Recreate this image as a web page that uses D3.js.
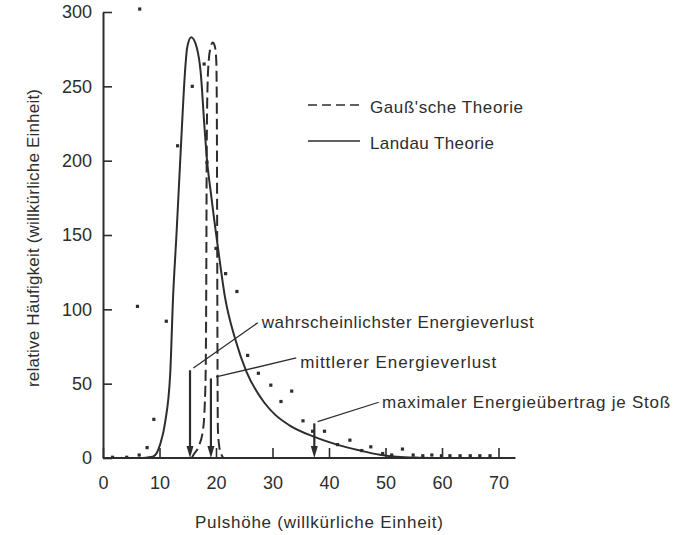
<!DOCTYPE html>
<html>
<head>
<meta charset="utf-8">
<script src="https://cdn.jsdelivr.net/npm/d3@7"></script>
<style>
  html, body { margin: 0; padding: 0; background: #fff; }
  svg { display: block; }
  text { font-family: "Liberation Sans Narrow", "Arial Narrow", sans-serif; fill: #2d2d2d; }
</style>
</head>
<body>
<svg id="chart" width="682" height="535"></svg>
<script>
// Tick values of both axes
const xTicks = [0, 10, 20, 30, 40, 50, 60, 70];
const yTicks = [0, 50, 100, 150, 200, 250, 300];

// Landau theory curve: [pulse height, frequency]
const landau = [
  [7.0, 0], [8.9, 1], [10.1, 9], [11.0, 24], [11.9, 57], [12.4, 108], [13.0, 150],
  [13.6, 195], [14.0, 225], [14.5, 259], [14.9, 276], [15.6, 283], [16.6, 276],
  [17.3, 259], [17.9, 226], [18.3, 205], [19.2, 175], [20.4, 140], [21.6, 108],
  [23.4, 80], [25.4, 58], [27.0, 46], [28.6, 37], [30.5, 29], [33.0, 22],
  [37.2, 14.5], [41.4, 9], [45.5, 5], [49.0, 2.2], [52.0, 0.8], [56.0, 0.2],
  [60.0, 0], [72.0, 0]
];

// Gaussian theory curve: [pulse height, frequency]
const gauss = [
  [15.7, 0], [16.0, 2], [16.9, 7.5], [17.7, 19], [18.0, 35], [18.18, 60],
  [18.28, 120], [18.35, 200], [18.5, 250], [18.73, 268], [19.03, 276],
  [19.42, 279.5], [19.79, 277], [20.04, 268], [20.14, 240], [20.21, 150],
  [20.27, 60], [20.33, 20], [20.6, 7], [21.0, 2], [21.3, 0]
];

// Measured counts: [pulse height, frequency]
const measured = [
  [1.7, 0.5], [4.2, 0.5], [6.4, 2], [7.8, 7], [9.0, 26], [11.2, 92], [6.1, 102],
  [6.5, 302], [13.2, 210], [15.8, 250], [17.9, 265], [18.4, 199], [20.0, 141],
  [21.7, 124], [23.7, 112], [25.6, 69], [27.5, 57], [29.7, 49], [31.5, 38],
  [33.4, 45], [35.4, 25], [37.1, 18], [39.2, 18], [41.5, 9], [43.7, 12],
  [45.8, 5], [47.4, 7.5], [49.5, 3], [51.1, 2], [53.0, 6], [54.9, 2], [56.6, 1.5],
  [58.2, 2], [59.9, 1.5], [61.4, 1.5], [63.2, 1.5], [65.0, 1.5], [66.7, 1.5], [68.5, 1.5]
];

// Marked energy values and arrow heights
const markLabels = ["wahrscheinlichster Energieverlust", "mittlerer Energieverlust", "maximaler Energieübertrag je Stoß"];
const markValues = [15.4, 19.1, 37.4];
const markTops = [59, 53.5, 23.3];

// Legend entries
const legendLabels = ["Gauß'sche Theorie", "Landau Theorie"];

// Axis titles
const xTitle = "Pulshöhe  (willkürliche Einheit)";
const yTitle = "relative Häufigkeit  (willkürliche Einheit)";

const ink = "#2d2d2d";
const svg = d3.select("#chart");

const x = d3.scaleLinear().domain([0, 70]).range([103, 498.5]);
const y = d3.scaleLinear().domain([0, 300]).range([458, 12]);

// Axes
const yAxis = d3.axisLeft(y).tickValues(yTicks).tickSize(-9).tickSizeOuter(0).tickPadding(11);
const gy = svg.append("g").attr("transform", `translate(${x(0)},0)`).call(yAxis);
gy.select(".domain").attr("stroke", ink).attr("stroke-width", 2);
gy.selectAll(".tick line").attr("stroke", ink).attr("stroke-width", 1.6);
gy.selectAll(".tick text").attr("font-size", 18).attr("fill", ink)
  .attr("font-family", '"Liberation Sans Narrow", sans-serif');

const xAxis = d3.axisBottom(x).tickValues(xTicks).tickSize(-10).tickSizeOuter(0).tickPadding(18);
const gx = svg.append("g").attr("transform", `translate(0,${y(0)})`).call(xAxis);
gx.select(".domain").remove();
gx.selectAll(".tick line").attr("stroke", ink).attr("stroke-width", 1.6);
gx.selectAll(".tick text").attr("font-size", 18).attr("fill", ink)
  .attr("font-family", '"Liberation Sans Narrow", sans-serif');
svg.append("line")
  .attr("x1", x(0)).attr("x2", x(73)).attr("y1", y(0)).attr("y2", y(0))
  .attr("stroke", ink).attr("stroke-width", 2);

// Theory curves
const line = d3.line().x(d => x(d[0])).y(d => y(d[1])).curve(d3.curveMonotoneX);
svg.append("path").datum(gauss).attr("d", line)
  .attr("fill", "none").attr("stroke", ink).attr("stroke-width", 2)
  .attr("stroke-dasharray", "11,5");
svg.append("path").datum(landau).attr("d", line)
  .attr("fill", "none").attr("stroke", ink).attr("stroke-width", 2);

// Measured points
svg.append("g").selectAll("rect").data(measured).join("rect")
  .attr("x", d => x(d[0]) - 1.6).attr("y", d => y(d[1]) - 1.6)
  .attr("width", 3.2).attr("height", 3.2).attr("fill", ink);

// Arrows marking energy values
markValues.forEach((v, i) => {
  const ax = x(v);
  svg.append("line").attr("x1", ax).attr("x2", ax)
    .attr("y1", y(markTops[i])).attr("y2", y(0) - 8)
    .attr("stroke", ink).attr("stroke-width", 2.2);
  svg.append("path")
    .attr("d", `M${ax - 3.5},${y(0) - 12} L${ax + 3.5},${y(0) - 12} L${ax},${y(0)} Z`)
    .attr("fill", ink);
});

// Leader lines and callout texts (positions in data units)
const callouts = [
  { from: [16.0, 60.5], to: [27.4, 91], text: [28.1, 91.5], len: 272 },
  { from: [20.0, 54.5], to: [34.2, 67.3], text: [34.9, 64.8], len: 196 },
  { from: [38.0, 24.5], to: [48.8, 37.5], text: [49.4, 38.0], len: 288 }
];
callouts.forEach((c, i) => {
  svg.append("line")
    .attr("x1", x(c.from[0])).attr("y1", y(c.from[1]))
    .attr("x2", x(c.to[0])).attr("y2", y(c.to[1]))
    .attr("stroke", ink).attr("stroke-width", 1.3);
  svg.append("text")
    .attr("x", x(c.text[0])).attr("y", y(c.text[1]))
    .attr("dy", "0.36em").attr("font-size", 17)
    .attr("textLength", c.len).attr("lengthAdjust", "spacing")
    .text(markLabels[i]);
});

// Legend
const legend = svg.append("g");
const legendRows = [
  { y: 105, dash: "9,5", len: 153 },
  { y: 141, dash: null, len: 124 }
];
legendRows.forEach((r, i) => {
  const l = legend.append("line").attr("x1", 308).attr("x2", 360)
    .attr("y1", r.y).attr("y2", r.y).attr("stroke", ink).attr("stroke-width", 1.5);
  if (r.dash) l.attr("stroke-dasharray", r.dash);
  legend.append("text").attr("x", 370).attr("y", r.y + 1.5).attr("dy", "0.36em")
    .attr("font-size", 17).attr("textLength", r.len).attr("lengthAdjust", "spacing")
    .text(legendLabels[i]);
});

// Axis titles
svg.append("text").attr("x", 319).attr("y", 522).attr("dy", "0.36em")
  .attr("text-anchor", "middle").attr("font-size", 17)
  .attr("textLength", 248).attr("lengthAdjust", "spacing")
  .text(xTitle);
svg.append("text")
  .attr("transform", "translate(33,238) rotate(-90)")
  .attr("dy", "0.36em").attr("text-anchor", "middle").attr("font-size", 17)
  .attr("textLength", 298).attr("lengthAdjust", "spacing")
  .text(yTitle);
</script>
</body>
</html>
